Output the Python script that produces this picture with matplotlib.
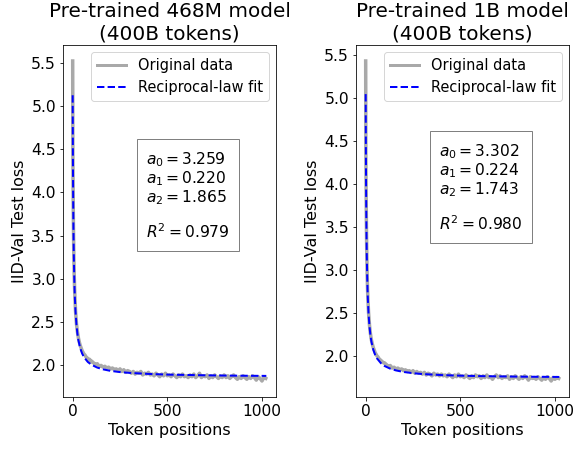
import numpy as np
import matplotlib
matplotlib.use("Agg")
import matplotlib.pyplot as plt

# ---------------- data ----------------
titles = ["Pre-trained 468M model\n(400B tokens)", "Pre-trained 1B model\n(400B tokens)"]

early_x = [0, 1, 2, 3, 4, 5, 6, 8, 10, 12, 15, 20, 25, 30, 35, 40, 45, 50, 55, 60,
           65, 70, 75, 80, 85, 90, 95, 100]
tail_x = list(range(110, 1021, 10))
data_x = early_x + tail_x

left_data = [5.52, 4.45, 4.10, 3.84, 3.62, 3.44, 3.28, 3.05, 2.90, 2.78, 2.63, 2.48, 2.39, 2.32,
             2.27, 2.23, 2.20, 2.17, 2.15, 2.13, 2.12, 2.10, 2.09, 2.08, 2.06, 2.07, 2.04, 2.05,
             2.03, 2.01, 2.02, 1.99, 2.00, 1.98, 1.99, 1.97, 1.98, 1.96,
             1.97, 1.95, 1.96, 1.94, 1.96, 1.93, 1.95, 1.92, 1.94, 1.93,
             1.91, 1.93, 1.90, 1.92, 1.91, 1.93, 1.89, 1.91, 1.90, 1.92,
             1.89, 1.90, 1.88, 1.91, 1.89, 1.87, 1.90, 1.88, 1.91, 1.88,
             1.89, 1.87, 1.90, 1.88, 1.86, 1.89, 1.87, 1.90, 1.87, 1.88,
             1.86, 1.89, 1.87, 1.90, 1.86, 1.88, 1.91, 1.86, 1.88, 1.87,
             1.89, 1.85, 1.88, 1.86, 1.89, 1.87, 1.85, 1.88, 1.86, 1.89,
             1.86, 1.88, 1.85, 1.87, 1.89, 1.86, 1.84, 1.87, 1.85, 1.88,
             1.86, 1.84, 1.87, 1.85, 1.88, 1.86, 1.83, 1.87, 1.85, 1.82,
             1.86, 1.85]

right_data = [5.43, 4.36, 4.00, 3.73, 3.50, 3.32, 3.17, 2.93, 2.77, 2.65, 2.51, 2.36, 2.26, 2.19,
              2.14, 2.10, 2.07, 2.04, 2.02, 2.00, 1.99, 1.97, 1.96, 1.95, 1.94, 1.93, 1.92, 1.92,
              1.90, 1.88, 1.89, 1.86, 1.87, 1.85, 1.86, 1.84, 1.85, 1.83,
              1.84, 1.82, 1.83, 1.81, 1.83, 1.80, 1.82, 1.80, 1.81, 1.79,
              1.81, 1.78, 1.80, 1.79, 1.77, 1.80, 1.78, 1.79, 1.77, 1.79,
              1.77, 1.78, 1.76, 1.79, 1.77, 1.75, 1.78, 1.76, 1.79, 1.76,
              1.77, 1.75, 1.78, 1.76, 1.74, 1.77, 1.75, 1.78, 1.76, 1.77,
              1.74, 1.77, 1.75, 1.78, 1.75, 1.76, 1.73, 1.76, 1.78, 1.75,
              1.77, 1.74, 1.76, 1.75, 1.77, 1.73, 1.76, 1.74, 1.77, 1.75,
              1.73, 1.76, 1.74, 1.77, 1.75, 1.72, 1.76, 1.74, 1.75, 1.73,
              1.76, 1.74, 1.72, 1.75, 1.73, 1.76, 1.74, 1.71, 1.75, 1.73,
              1.75, 1.74]

fit_x = [0, 1, 2, 3, 4, 5, 6, 8, 10, 12, 15, 20, 25, 30, 40, 50, 60, 80, 100, 130, 160,
         200, 250, 300, 400, 500, 600, 700, 800, 900, 1023]
left_fit = [5.124, 4.536, 4.128, 3.828, 3.599, 3.417, 3.270, 3.046, 2.883, 2.760, 2.623,
            2.469, 2.366, 2.294, 2.198, 2.137, 2.095, 2.040, 2.007, 1.975, 1.955,
            1.937, 1.923, 1.914, 1.902, 1.894, 1.890, 1.886, 1.883, 1.881, 1.879]
right_fit = [5.045, 4.441, 4.023, 3.718, 3.485, 3.301, 3.152, 2.926, 2.762, 2.638, 2.500,
             2.346, 2.243, 2.171, 2.075, 2.014, 1.972, 1.918, 1.884, 1.853, 1.833,
             1.815, 1.801, 1.791, 1.779, 1.772, 1.767, 1.764, 1.761, 1.759, 1.757]

params = [("3.259", "0.220", "1.865", "0.979"), ("3.302", "0.224", "1.743", "0.980")]
datasets = [(left_data, left_fit), (right_data, right_fit)]

# ---------------- figure ----------------
fig = plt.figure(figsize=(8, 6.25), dpi=72)
positions = [[63 / 576, 53 / 450, 213 / 576, 352 / 450],
             [356 / 576, 53 / 450, 213 / 576, 352 / 450]]
box_centers = [(0.587, 0.572), (0.585, 0.595)]

for i in range(2):
    ax = fig.add_axes(positions[i])
    d, f = datasets[i]
    ax.plot(data_x, d, color="darkgray", lw=3.5, label="Original data")
    ax.plot(fit_x, f, color="blue", lw=2, ls="--", label="Reciprocal-law fit")
    ax.set_title(titles[i], fontsize=20)
    ax.set_xlabel("Token positions", fontsize=16)
    ax.set_ylabel("IID-Val Test loss", fontsize=16)
    ax.tick_params(labelsize=15.5)
    ax.set_xticks([0, 500, 1000])
    ax.set_yticks([2.0, 2.5, 3.0, 3.5, 4.0, 4.5, 5.0, 5.5])
    leg = ax.legend(loc="upper right", fontsize=14.5)
    for h in leg.get_lines():
        h.set_linewidth(3 if h.get_linestyle() == "-" else 2)
    a0, a1, a2, r2 = params[i]
    txt = (r"$a_0 = %s$" "\n" r"$a_1 = %s$" "\n" r"$a_2 = %s$" "\n\n" r"$R^2 = %s$") % (a0, a1, a2, r2)
    ax.text(box_centers[i][0], box_centers[i][1], txt, transform=ax.transAxes,
            fontsize=15.5, ha="center", va="center", multialignment="left",
            linespacing=1.03,
            bbox=dict(boxstyle="square,pad=0.6", facecolor="white", edgecolor="gray"))

fig.savefig("out.png", dpi=72)
